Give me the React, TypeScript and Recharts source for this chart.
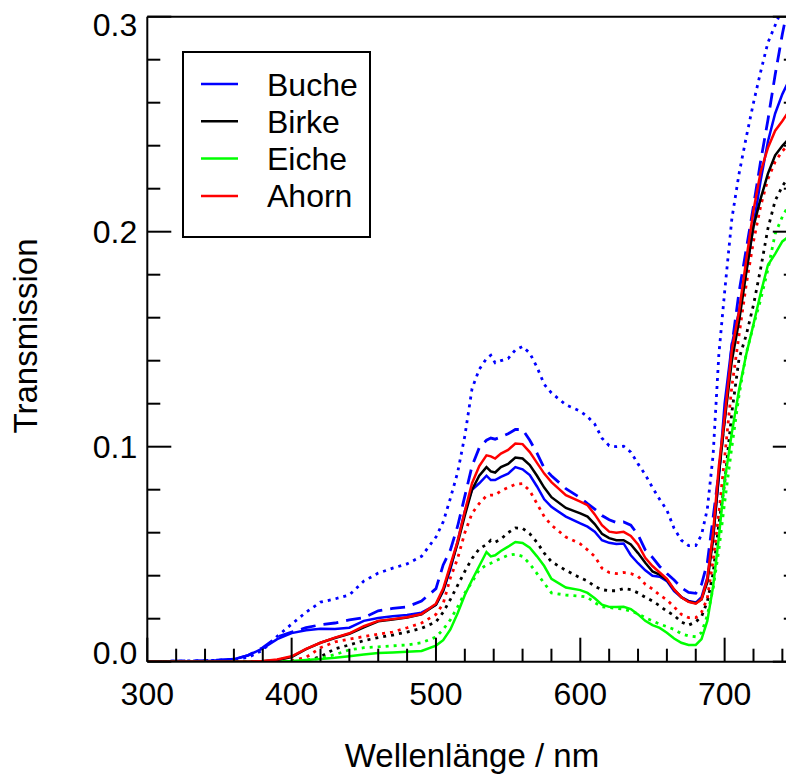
import { LineChart, Line, XAxis, YAxis, Legend, Label } from "recharts";

const wavelengths = [
  300, 340, 360, 370, 380, 390, 400, 410, 420, 430,
  440, 450, 460, 470, 480, 490, 500, 505, 510, 515,
  520, 525, 530, 535, 538, 541, 545, 550, 555, 560,
  565, 570, 575, 580, 590, 600, 605, 610, 615, 620,
  625, 630, 635, 640, 645, 650, 655, 660, 665, 670,
  675, 680, 684, 688, 692, 696, 700, 705, 710, 715,
  720, 725, 730, 735, 740, 745, 750,
];

const buche = [
  0, 0.0002, 0.0012, 0.003, 0.0062, 0.0105, 0.0133, 0.0146, 0.0153, 0.0152,
  0.0158, 0.019, 0.0203, 0.0211, 0.0217, 0.0228, 0.0265, 0.033, 0.043, 0.056,
  0.07, 0.08, 0.083, 0.0865, 0.0845, 0.0845, 0.086, 0.0875, 0.0905, 0.0895,
  0.0868, 0.0815, 0.0755, 0.072, 0.0675, 0.0643, 0.0628, 0.0605, 0.0565, 0.0553,
  0.0547, 0.055, 0.0495, 0.0458, 0.0425, 0.04, 0.0395, 0.0375, 0.0328, 0.03,
  0.0283, 0.0275, 0.03, 0.039, 0.058, 0.086, 0.12, 0.1475, 0.163, 0.182,
  0.203, 0.224, 0.242, 0.255, 0.264, 0.271, 0.277,
];
const bucheDashed = [
  0, 0.0005, 0.001, 0.003, 0.0065, 0.0115, 0.0138, 0.0158, 0.0172, 0.018,
  0.0194, 0.0205, 0.0237, 0.0248, 0.0255, 0.0282, 0.034, 0.045, 0.052, 0.063,
  0.077, 0.091, 0.0995, 0.103, 0.104, 0.1035, 0.1045, 0.106, 0.108, 0.108,
  0.103, 0.097, 0.09, 0.0865, 0.0805, 0.0762, 0.0735, 0.071, 0.068, 0.066,
  0.0647, 0.065, 0.0635, 0.059, 0.052, 0.0485, 0.0443, 0.041, 0.038, 0.0345,
  0.0322, 0.0318, 0.036, 0.046, 0.067, 0.088, 0.113, 0.147, 0.172, 0.192,
  0.212, 0.233, 0.252, 0.273, 0.292, 0.308, 0.322,
];
const bucheDotted = [
  0, 0.0005, 0.001, 0.002, 0.0054, 0.0118, 0.0175, 0.023, 0.0277, 0.0292,
  0.031, 0.0375, 0.0412, 0.0435, 0.0455, 0.049, 0.058, 0.065, 0.076, 0.088,
  0.105, 0.127, 0.136, 0.141, 0.1425, 0.139, 0.14, 0.141, 0.145, 0.1466,
  0.1435, 0.137, 0.129, 0.125, 0.1195, 0.1165, 0.114, 0.1105, 0.104, 0.1005,
  0.1, 0.1002, 0.0975, 0.092, 0.087, 0.081, 0.0755, 0.0705, 0.062, 0.0565,
  0.054, 0.054, 0.059, 0.071, 0.096, 0.143, 0.172, 0.206, 0.227, 0.244,
  0.26, 0.2745, 0.288, 0.296, 0.304, 0.312, 0.318,
];
const birke = [
  0, 0, 0, 0, 0.0002, 0.0008, 0.0022, 0.0058, 0.0088, 0.011,
  0.013, 0.016, 0.0188, 0.0196, 0.0205, 0.022, 0.0265, 0.033, 0.044, 0.055,
  0.068, 0.08, 0.0865, 0.0905, 0.0885, 0.088, 0.0905, 0.092, 0.095, 0.0945,
  0.0915, 0.0865, 0.081, 0.0765, 0.0715, 0.069, 0.0675, 0.064, 0.0595, 0.0575,
  0.0565, 0.0565, 0.0545, 0.0505, 0.046, 0.042, 0.0405, 0.038, 0.0335, 0.03,
  0.028, 0.0272, 0.029, 0.037, 0.057, 0.087, 0.112, 0.14, 0.1585, 0.181,
  0.2025, 0.2155, 0.227, 0.2355, 0.24, 0.2435, 0.246,
];
const birkeDotted = [
  0, 0, 0, 0, 0, 0, 0, 0.0005, 0.0023, 0.006,
  0.0078, 0.0098, 0.0112, 0.0124, 0.0138, 0.0155, 0.0185, 0.023, 0.029, 0.0355,
  0.042, 0.048, 0.0525, 0.0545, 0.0565, 0.0556, 0.057, 0.06, 0.0622, 0.062,
  0.0595, 0.0555, 0.0505, 0.0465, 0.0425, 0.039, 0.0375, 0.035, 0.0335, 0.033,
  0.033, 0.034, 0.0335, 0.032, 0.03, 0.0282, 0.026, 0.0235, 0.0215, 0.0185,
  0.017, 0.0185, 0.021, 0.028, 0.041, 0.064, 0.083, 0.116, 0.141, 0.152,
  0.166, 0.183, 0.2015, 0.2144, 0.2212, 0.226, 0.23,
];
const eiche = [
  0, 0, 0, 0, 0, 0, 0.0003, 0.0008, 0.0013, 0.0018,
  0.0025, 0.0033, 0.004, 0.0043, 0.0046, 0.005, 0.0075, 0.01, 0.015, 0.0225,
  0.031, 0.038, 0.0445, 0.051, 0.049, 0.0495, 0.0515, 0.0535, 0.0557, 0.0552,
  0.053, 0.049, 0.0445, 0.0385, 0.0345, 0.0333, 0.032, 0.0295, 0.0265, 0.0255,
  0.0254, 0.0255, 0.0245, 0.022, 0.019, 0.017, 0.0157, 0.0135, 0.0108, 0.0088,
  0.0078, 0.0078, 0.0105, 0.019, 0.035, 0.058, 0.084, 0.1065, 0.1265, 0.143,
  0.157, 0.1715, 0.1845, 0.1897, 0.1955, 0.198, 0.2,
];
const eicheDotted = [
  0, 0, 0, 0, 0, 0, 0, 0.0005, 0.0016, 0.0033,
  0.0055, 0.0065, 0.0069, 0.0074, 0.0078, 0.0088, 0.0115, 0.015, 0.0195, 0.0255,
  0.032, 0.037, 0.0428, 0.045, 0.0458, 0.0468, 0.048, 0.0495, 0.05, 0.049,
  0.0455, 0.041, 0.0365, 0.032, 0.031, 0.0305, 0.03, 0.0275, 0.0255, 0.0252,
  0.0248, 0.0245, 0.0235, 0.0223, 0.0205, 0.019, 0.0175, 0.0163, 0.015, 0.013,
  0.012, 0.0116, 0.0135, 0.0215, 0.034, 0.052, 0.074, 0.1, 0.124, 0.1435,
  0.1565, 0.1685, 0.1825, 0.199, 0.207, 0.213, 0.218,
];
const ahorn = [
  0, 0, 0, 0, 0.0003, 0.001, 0.0025, 0.006, 0.0088, 0.0112,
  0.0132, 0.0165, 0.019, 0.0198, 0.0207, 0.0222, 0.027, 0.034, 0.045, 0.056,
  0.07, 0.083, 0.091, 0.096, 0.0955, 0.0945, 0.0968, 0.0985, 0.1015, 0.1012,
  0.0975, 0.0925, 0.0875, 0.0835, 0.0775, 0.0745, 0.0728, 0.0685, 0.0635, 0.0605,
  0.06, 0.0604, 0.0585, 0.0545, 0.0483, 0.0445, 0.0415, 0.0385, 0.0336, 0.03,
  0.0278, 0.027, 0.029, 0.0385, 0.06, 0.091, 0.114, 0.145, 0.163, 0.187,
  0.21, 0.228, 0.239, 0.247, 0.2515, 0.2565, 0.26,
];
const ahornDotted = [
  0, 0, 0, 0, 0, 0, 0.0005, 0.002, 0.0065, 0.0092,
  0.0105, 0.0117, 0.0128, 0.0138, 0.0158, 0.018, 0.022, 0.027, 0.039, 0.048,
  0.06, 0.069, 0.0736, 0.0772, 0.0775, 0.0775, 0.0795, 0.081, 0.0825, 0.0828,
  0.0795, 0.0735, 0.0675, 0.0635, 0.058, 0.0548, 0.052, 0.049, 0.0435, 0.0415,
  0.041, 0.0415, 0.041, 0.0397, 0.036, 0.0338, 0.031, 0.0287, 0.0255, 0.022,
  0.0205, 0.0205, 0.023, 0.0295, 0.047, 0.069, 0.095, 0.128, 0.152, 0.1755,
  0.1955, 0.212, 0.2245, 0.2325, 0.2375, 0.241, 0.244,
];

const xTicks = [300, 320, 340, 360, 380, 400, 420, 440, 460, 480, 500, 520, 540, 560, 580, 600, 620, 640, 660, 680, 700, 720, 740];
const yTicks = [0, 0.02, 0.04, 0.06, 0.08, 0.1, 0.12, 0.14, 0.16, 0.18, 0.2, 0.22, 0.24, 0.26, 0.28, 0.3];

const legendNames = ["Buche", "Birke", "Eiche", "Ahorn"];
const legendColors = ["#0000ff", "#000000", "#00ff00", "#ff0000"];

const data = wavelengths.map((wl, i) => ({
  wl,
  buche: buche[i],
  bucheDashed: bucheDashed[i],
  bucheDotted: bucheDotted[i],
  birke: birke[i],
  birkeDotted: birkeDotted[i],
  eiche: eiche[i],
  eicheDotted: eicheDotted[i],
  ahorn: ahorn[i],
  ahornDotted: ahornDotted[i],
}));

const FONT = "'Liberation Sans', Arial, Helvetica, sans-serif";
const MAJOR = 24;
const MINOR = 13;

const isMajorY = (v: number) => Math.abs(v * 10 - Math.round(v * 10)) < 1e-6;

function BottomTick({ x, y, payload }: any) {
  const major = payload.value % 100 === 0;
  return (
    <g>
      <line x1={x} x2={x} y1={y} y2={y - (major ? MAJOR : MINOR)} stroke="#000" strokeWidth={2} />
      {major && (
        <text x={x} y={y + 43} textAnchor="middle" fontSize={32} fontFamily={FONT} fill="#000">
          {payload.value}
        </text>
      )}
    </g>
  );
}

function TopTick({ x, y, payload }: any) {
  const major = payload.value % 100 === 0;
  return <line x1={x} x2={x} y1={y} y2={y + (major ? MAJOR : MINOR)} stroke="#000" strokeWidth={2} />;
}

function LeftTick({ x, y, payload }: any) {
  const v = payload.value as number;
  const major = isMajorY(v);
  // end labels are pulled inside like the original plot
  const nudge = v === 0 ? -9 : v >= 0.3 - 1e-9 ? 8 : 0;
  return (
    <g>
      <line x1={x} x2={x + (major ? MAJOR : MINOR)} y1={y} y2={y} stroke="#000" strokeWidth={2} />
      {major && (
        <text x={x - 10} y={y + 11 + nudge} textAnchor="end" fontSize={32} fontFamily={FONT} fill="#000">
          {v.toFixed(1)}
        </text>
      )}
    </g>
  );
}

function RightTick({ x, y, payload }: any) {
  const major = isMajorY(payload.value);
  return <line x1={x} x2={x - (major ? MAJOR : MINOR)} y1={y} y2={y} stroke="#000" strokeWidth={2} />;
}

function LegendBox() {
  return (
    <div style={{ width: 185, height: 183, border: "2px solid #000", background: "#fff" }}>
      <svg width={185} height={183}>
        {legendNames.map((name, i) => {
          const cy = 31 + i * 37.3;
          return (
            <g key={name}>
              <line x1={17} x2={54} y1={cy} y2={cy} stroke={legendColors[i]} strokeWidth={2.5} />
              <text x={83} y={cy + 11.5} fontSize={32} fontFamily={FONT} fill="#000">
                {name}
              </text>
            </g>
          );
        })}
      </svg>
    </div>
  );
}

const dotted = "3 5";
const dashed = "15 8";

export default function App() {
  const W = 810;
  const H = 774;
  const plotLeft = 147.3;
  const plotTop = 16.7;
  const plotRight = 796.8;
  const plotBottom = 661.7;
  return (
    <div style={{ position: "absolute", left: 0, top: 0, width: 786, height: 774, overflow: "hidden", background: "#fff" }}>
      <LineChart
        width={W}
        height={H}
        data={data}
        margin={{ top: plotTop - 1, left: plotLeft - 1, right: W - plotRight - 1, bottom: H - plotBottom - 1 }}
      >
        <XAxis
          dataKey="wl"
          type="number"
          domain={[300, 750]}
          allowDataOverflow
          ticks={xTicks}
          interval={0}
          height={1}
          tickSize={0}
          tickMargin={0}
          tickLine={false}
          axisLine={{ stroke: "#000", strokeWidth: 2 }}
          tick={(p: any) => <BottomTick {...p} />}
        >
          <Label
            content={() => (
              <text x={472} y={767} textAnchor="middle" fontSize={33} fontFamily={FONT} fill="#000">
                Wellenlänge / nm
              </text>
            )}
          />
        </XAxis>
        <XAxis
          xAxisId="top"
          orientation="top"
          type="number"
          domain={[300, 750]}
          allowDataOverflow
          ticks={xTicks}
          interval={0}
          height={1}
          tickSize={0}
          tickMargin={0}
          tickLine={false}
          axisLine={{ stroke: "#000", strokeWidth: 2 }}
          tick={(p: any) => <TopTick {...p} />}
        />
        <YAxis
          type="number"
          domain={[0, 0.3]}
          allowDataOverflow
          ticks={yTicks}
          interval={0}
          width={1}
          tickSize={0}
          tickMargin={0}
          tickLine={false}
          axisLine={{ stroke: "#000", strokeWidth: 2 }}
          tick={(p: any) => <LeftTick {...p} />}
        >
          <Label
            content={() => (
              <text
                x={37}
                y={336}
                textAnchor="middle"
                fontSize={33}
                fontFamily={FONT}
                fill="#000"
                transform="rotate(-90 37 336)"
              >
                Transmission
              </text>
            )}
          />
        </YAxis>
        <YAxis
          yAxisId="right"
          orientation="right"
          type="number"
          domain={[0, 0.3]}
          allowDataOverflow
          ticks={yTicks}
          interval={0}
          width={1}
          tickSize={0}
          tickMargin={0}
          tickLine={false}
          axisLine={{ stroke: "#000", strokeWidth: 2 }}
          tick={(p: any) => <RightTick {...p} />}
        />
        <Legend
          layout="horizontal"
          verticalAlign="middle"
          align="center"
          content={() => <LegendBox />}
          wrapperStyle={{ left: 181.7, top: 51, width: 189, height: 187 }}
        />
        <Line dataKey="bucheDotted" stroke="#0000ff" strokeWidth={2.8} strokeDasharray={dotted} dot={false} isAnimationActive={false} />
        <Line dataKey="bucheDashed" stroke="#0000ff" strokeWidth={2.8} strokeDasharray={dashed} dot={false} isAnimationActive={false} />
        <Line dataKey="birkeDotted" stroke="#000000" strokeWidth={2.8} strokeDasharray={dotted} dot={false} isAnimationActive={false} />
        <Line dataKey="ahornDotted" stroke="#ff0000" strokeWidth={2.8} strokeDasharray={dotted} dot={false} isAnimationActive={false} />
        <Line dataKey="eicheDotted" stroke="#00ff00" strokeWidth={2.8} strokeDasharray={dotted} dot={false} isAnimationActive={false} />
        <Line dataKey="buche" stroke="#0000ff" strokeWidth={2.5} dot={false} isAnimationActive={false} />
        <Line dataKey="eiche" stroke="#00ff00" strokeWidth={2.5} dot={false} isAnimationActive={false} />
        <Line dataKey="birke" stroke="#000000" strokeWidth={2.5} dot={false} isAnimationActive={false} />
        <Line dataKey="ahorn" stroke="#ff0000" strokeWidth={2.5} dot={false} isAnimationActive={false} />
      </LineChart>
    </div>
  );
}
